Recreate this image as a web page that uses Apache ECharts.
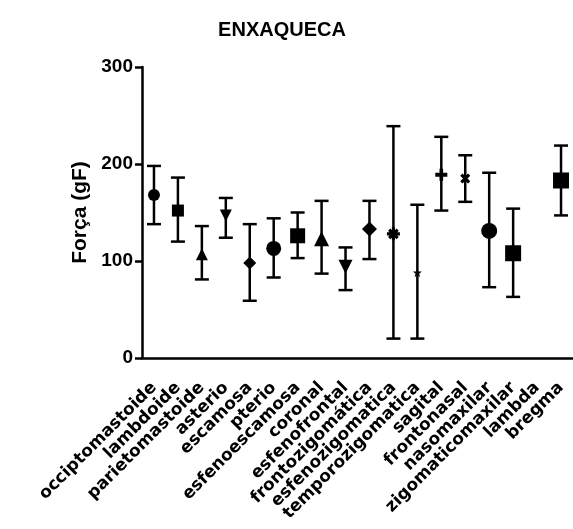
<!DOCTYPE html>
<html>
<head>
<meta charset="utf-8">
<script src="https://cdn.jsdelivr.net/npm/echarts@6/dist/echarts.min.js"></script>
<style>
  html, body { margin: 0; padding: 0; background: #fff; }
  #chart { width: 573px; height: 529px; }
</style>
</head>
<body>
<div id="chart"></div>
<script>
// categorias (suturas)
var categories = ['occiptomastoide', 'lambdoide', 'parietomastoide', 'asterio', 'escamosa',
    'pterio', 'esfenoescamosa', 'coronal', 'esfenofrontal', 'frontozigomática',
    'esfenozigomatica', 'temporozigomatica', 'sagital', 'frontonasal', 'nasomaxilar',
    'zigomaticomaxilar', 'lambda', 'bregma'];

// média e limites da barra de erro (gF); '-' = sem dado
var means = [168, 152, 107, 147, 98, 113, 126, 123, 94, 133, 128, 88, 189, 185, 131, 108, '-', 183];
var upper = [198, 186, 136, 165, 138, 144, 150, 162, 114, 162, 239, 158, 228, 209, 191, 154, '-', 219];
var lower = [138, 120, 81, 124, 59, 83, 103, 87, 70, 102, 20, 20, 152, 161, 73, 63, '-', 147];

var yTicks = [0, 100, 200, 300];

// símbolos de cada grupo
var downTri = 'path://M0,0L10,0L5,10Z';
var asterisk = 'path://M3.8,0H6.2V10H3.8Z M0,3.8H10V6.2H0Z M0.9,2.6L2.6,0.9L9.1,7.4L7.4,9.1Z M7.4,0.9L9.1,2.6L2.6,9.1L0.9,7.4Z';
var star = 'path://M5,0L6.2,3.6L10,3.6L7,5.9L8.1,9.5L5,7.3L1.9,9.5L3,5.9L0,3.6L3.8,3.6Z';
var plus = 'path://M3.5,0H6.5V10H3.5Z M0,3.3H10V6.7H0Z';
var cross = 'path://M0.8,2.7L2.7,0.8L9.2,7.3L7.3,9.2Z M7.3,0.8L9.2,2.7L2.7,9.2L0.8,7.3Z';
var markers = [
    ['circle', 12], ['rect', 12], ['triangle', 12], [downTri, 12], ['diamond', 13],
    ['circle', 15], ['rect', 15], ['triangle', 15], [downTri, 14], ['diamond', 15],
    [asterisk, 13], [star, 9], [plus, 12], [cross, 10], ['circle', 16],
    ['rect', 16], ['none', 1], ['rect', 16]
];

var font = 'Liberation Sans, Arial, sans-serif';
var labelFont = 'DejaVu Sans, sans-serif';

var errData = [];
var pointData = [];
for (var i = 0; i < categories.length; i++) {
    if (means[i] === '-') {
        pointData.push('-');
        continue;
    }
    errData.push([i, lower[i], upper[i]]);
    pointData.push({
        value: means[i],
        symbol: markers[i][0],
        symbolSize: markers[i][1]
    });
}

var renderErr = function (params, api) {
    var x = api.value(0);
    var lo = api.coord([x, api.value(1)]);
    var hi = api.coord([x, api.value(2)]);
    var cap = 7;
    var style = {stroke: '#000', lineWidth: 2.5, fill: null};
    return {
        type: 'group',
        children: [
            {type: 'line', shape: {x1: lo[0], y1: lo[1], x2: hi[0], y2: hi[1]}, style: style},
            {type: 'line', shape: {x1: lo[0] - cap, y1: lo[1], x2: lo[0] + cap, y2: lo[1]}, style: style},
            {type: 'line', shape: {x1: hi[0] - cap, y1: hi[1], x2: hi[0] + cap, y2: hi[1]}, style: style}
        ]
    };
};

var chart = echarts.init(document.getElementById('chart'));
chart.setOption({
    animation: false,
    backgroundColor: '#fff',
    title: {
        text: 'ENXAQUECA',
        left: 277,
        top: 15,
        textAlign: 'center',
        textStyle: {fontFamily: font, fontWeight: 'bold', fontSize: 20, color: '#000'}
    },
    grid: {left: 142, top: 67, bottom: 171, right: -8, containLabel: false},
    xAxis: {
        type: 'category',
        data: categories,
        axisLine: {lineStyle: {color: '#000', width: 2.5}},
        axisTick: {alignWithLabel: true, length: 8, lineStyle: {color: '#000', width: 2.5}},
        axisLabel: {
            rotate: 45, interval: 0, margin: 27,
            fontFamily: labelFont, fontWeight: 'bold', fontSize: 17, color: '#000'
        },
        splitLine: {show: false}
    },
    yAxis: {
        type: 'value',
        min: yTicks[0],
        max: yTicks[yTicks.length - 1],
        interval: 100,
        name: 'Força (gF)',
        nameLocation: 'middle',
        nameGap: 45,
        nameTextStyle: {fontFamily: font, fontWeight: 'bold', fontSize: 21, color: '#000'},
        axisLine: {show: true, lineStyle: {color: '#000', width: 2.5}},
        axisTick: {show: true, length: 7, lineStyle: {color: '#000', width: 2.5}},
        axisLabel: {margin: 9, fontFamily: font, fontWeight: 'bold', fontSize: 19, color: '#000'},
        splitLine: {show: false}
    },
    series: [
        {
            type: 'custom',
            renderItem: renderErr,
            data: errData,
            z: 2
        },
        {
            type: 'scatter',
            data: pointData,
            itemStyle: {color: '#000', opacity: 1},
            z: 3
        }
    ]
});
</script>
</body>
</html>
